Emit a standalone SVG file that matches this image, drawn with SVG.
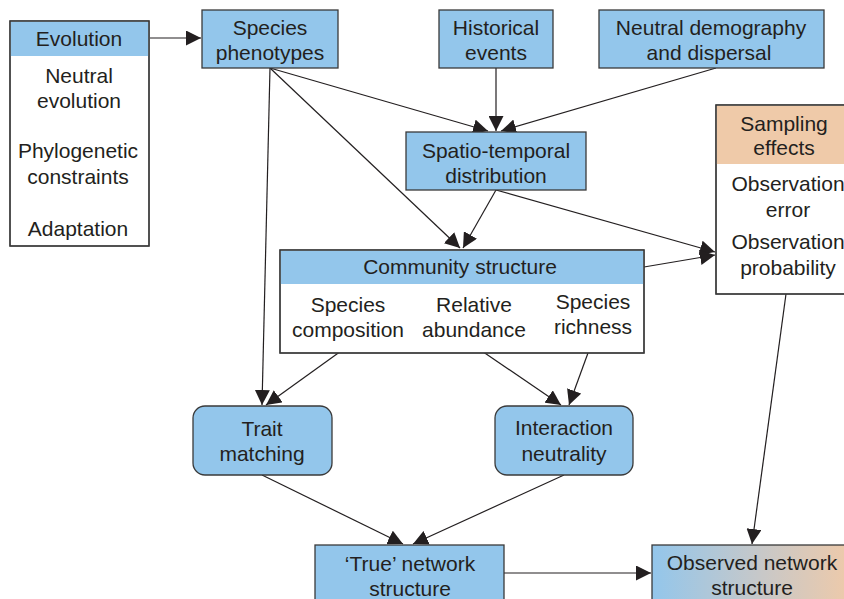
<svg xmlns="http://www.w3.org/2000/svg" width="844" height="599" viewBox="0 0 844 599">
<defs>
<style>
text{font-family:"Liberation Sans",Arial,sans-serif;font-size:21px;fill:#231f20;text-anchor:middle}
.box{stroke:#3a3a3a;stroke-width:1.3}
.blue{fill:#93c6eb}
.org{fill:#efcaa9}
.wh{fill:#fff}
.c line{stroke:#231f20;stroke-width:1.2;marker-end:url(#ah)}
</style>
<marker id="ah" viewBox="0 0 10 10" refX="10" refY="5" markerWidth="15" markerHeight="15" markerUnits="userSpaceOnUse" orient="auto">
<path d="M0,0 L10,5 L0,10 z" fill="#231f20"/>
</marker>
<linearGradient id="grad" x1="0" y1="0" x2="1" y2="0">
<stop offset="0" stop-color="#93c6eb"/>
<stop offset="0.55" stop-color="#c8c8c8"/>
<stop offset="1" stop-color="#efcaa9"/>
</linearGradient>
</defs>
<rect width="844" height="599" fill="#fff"/>
<g class="c">
<line x1="150" y1="38" x2="201" y2="38"/>
<line x1="270" y1="68" x2="488" y2="131"/>
<line x1="270" y1="68" x2="460" y2="248"/>
<line x1="270" y1="68" x2="262" y2="405"/>
<line x1="496" y1="68" x2="496" y2="131"/>
<line x1="716" y1="68" x2="501" y2="131"/>
<line x1="496" y1="190" x2="463" y2="248"/>
<line x1="496" y1="190" x2="715" y2="252"/>
<line x1="644" y1="267" x2="715" y2="255"/>
<line x1="348" y1="346" x2="266" y2="405"/>
<line x1="476" y1="347" x2="561" y2="405"/>
<line x1="592" y1="342" x2="569" y2="405"/>
<line x1="262" y1="475" x2="403" y2="544"/>
<line x1="564" y1="475" x2="413" y2="544"/>
<line x1="786" y1="294" x2="752" y2="544"/>
<line x1="504" y1="573" x2="651" y2="573"/>
</g>
<g id="evolution">
<rect class="box wh" x="10" y="21" width="139" height="225"/>
<rect class="blue" x="10.7" y="21.7" width="137.6" height="34.3"/>
<rect class="box" x="10" y="21" width="139" height="225" fill="none"/>
<text x="79" y="46">Evolution</text>
<text x="79" y="83">Neutral</text>
<text x="79" y="108">evolution</text>
<text x="78" y="158">Phylogenetic</text>
<text x="78" y="184">constraints</text>
<text x="78" y="236">Adaptation</text>
</g>
<g id="species-phenotypes">
<rect class="box blue" x="202" y="10" width="136" height="58"/>
<text x="270" y="35">Species</text>
<text x="270" y="60">phenotypes</text>
</g>
<g id="historical-events">
<rect class="box blue" x="439" y="10" width="114" height="58"/>
<text x="496" y="35">Historical</text>
<text x="496" y="60">events</text>
</g>
<g id="neutral-demography">
<rect class="box blue" x="599" y="10" width="225" height="58"/>
<text x="711" y="35">Neutral demography</text>
<text x="709" y="60">and dispersal</text>
</g>
<g id="spatio-temporal">
<rect class="box blue" x="406" y="132" width="180" height="58"/>
<text x="496" y="158">Spatio-temporal</text>
<text x="496" y="183">distribution</text>
</g>
<g id="sampling-effects">
<rect class="box wh" x="716" y="105" width="140" height="189"/>
<rect class="org" x="716.7" y="105.7" width="140" height="58.3"/>
<rect class="box" x="716" y="105" width="140" height="189" fill="none"/>
<text x="784" y="131">Sampling</text>
<text x="784" y="155">effects</text>
<text x="788" y="191">Observation</text>
<text x="788" y="217">error</text>
<text x="788" y="249">Observation</text>
<text x="788" y="275">probability</text>
</g>
<g id="community-structure">
<rect class="box wh" x="280" y="250" width="364" height="103"/>
<rect class="blue" x="280.7" y="250.7" width="362.6" height="33.3"/>
<rect class="box" x="280" y="250" width="364" height="103" fill="none"/>
<text x="460" y="274">Community structure</text>
<text x="348" y="312">Species</text>
<text x="348" y="337">composition</text>
<text x="474" y="312">Relative</text>
<text x="474" y="337">abundance</text>
<text x="593" y="309">Species</text>
<text x="593" y="334">richness</text>
</g>
<g id="trait-matching">
<rect class="box blue" x="193" y="406" width="139" height="69" rx="12"/>
<text x="262" y="436">Trait</text>
<text x="262" y="461">matching</text>
</g>
<g id="interaction-neutrality">
<rect class="box blue" x="495" y="406" width="138" height="69" rx="12"/>
<text x="564" y="435">Interaction</text>
<text x="564" y="461">neutrality</text>
</g>
<g id="true-network">
<rect class="box blue" x="315" y="545" width="189" height="70"/>
<text x="410" y="571">‘True’ network</text>
<text x="410" y="596">structure</text>
</g>
<g id="observed-network">
<rect class="box" fill="url(#grad)" x="652" y="545" width="200" height="70"/>
<text x="752" y="570">Observed network</text>
<text x="752" y="595">structure</text>
</g>
</svg>
